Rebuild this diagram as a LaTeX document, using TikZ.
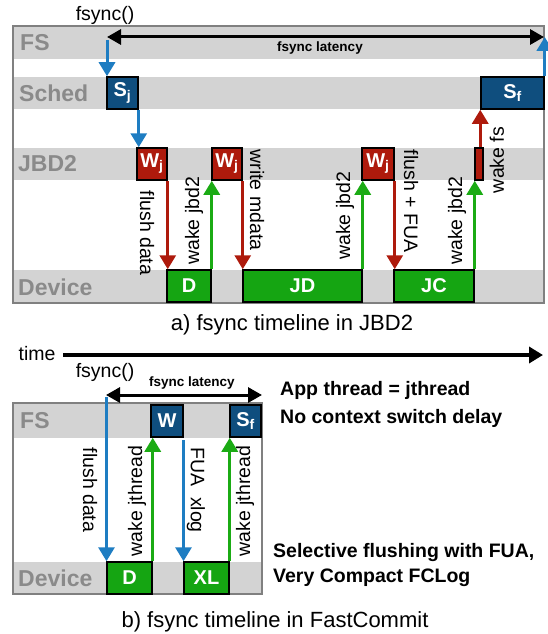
\documentclass[tikz,border=0pt]{standalone}
\usepackage{fontspec}
\setmainfont{Liberation Sans}
\usetikzlibrary{arrows.meta}
\definecolor{bandgray}{HTML}{D3D3D3}
\definecolor{lanegray}{HTML}{8A8A8A}
\definecolor{framegray}{HTML}{808080}
\definecolor{boxblue}{HTML}{0F4E7E}
\definecolor{boxred}{HTML}{AE1A0C}
\definecolor{boxgreen}{HTML}{15A512}
\definecolor{ablue}{HTML}{1E7DC2}
\definecolor{ared}{HTML}{AE1A0C}
\definecolor{agreen}{HTML}{1BAB14}
\begin{document}
\begin{tikzpicture}[x=1pt,y=-1pt,
  box/.style={draw=black, line width=1.5pt, text=white, font=\bfseries\fontsize{20}{22}\selectfont, inner sep=0pt, minimum height=32pt},
  bbox/.style={box, fill=boxblue},
  rbox/.style={box, fill=boxred},
  gbox/.style={box, fill=boxgreen},
  lane/.style={font=\bfseries\fontsize{23}{26}\selectfont, text=lanegray, anchor=west, inner sep=0pt},
  arr/.style={line width=3pt, -{Triangle[width=16pt,length=14pt]}},
  lat/.style={line width=3pt, {Triangle[width=15pt,length=14pt]}-{Triangle[width=15pt,length=14pt]}},
  lbl/.style={font=\fontsize{19.5}{22}\selectfont, inner sep=0pt},
  latl/.style={font=\bfseries\fontsize{13.5}{15}\selectfont, inner sep=0pt},
  note/.style={font=\bfseries\fontsize{19.5}{22}\selectfont, anchor=west, inner sep=0pt},
  capt/.style={font=\fontsize{22}{25}\selectfont, inner sep=0pt},
  band/.style={fill=bandgray},
  frm/.style={draw=framegray, line width=1.5pt},
]
\useasboundingbox (0,0) rectangle (548,634);

% ---------------- part a ----------------
\fill[band] (13,27) rectangle (544,59);
\fill[band] (13,77) rectangle (544,109);
\fill[band] (13,148) rectangle (544,180);
\fill[band] (13,270) rectangle (544,302);
\draw[frm] (13,26) rectangle (544,303);

\node[lane] (lfs) at (20,43) {FS};
\node[lane] (lsched) at (19,93) {Sched};
\node[lane] (ljbd) at (18,164) {JBD2};
\node[lane] (ldev) at (18,287) {Device};

\node[lbl] (fsynca) at (105,15) {fsync()};

\node[bbox, minimum width=31pt] (sj) at (122.5,93) {S\textsubscript{j}};
\node[bbox, minimum width=63pt] (sf) at (512.5,93) {S\textsubscript{f}};
\node[rbox, minimum width=30pt] (w1) at (152,164) {W\textsubscript{j}};
\node[rbox, minimum width=30pt] (w2) at (227,164) {W\textsubscript{j}};
\node[rbox, minimum width=32pt] (w3) at (378,164) {W\textsubscript{j}};
\node[rbox, minimum width=8pt] (w4) at (479,164) {};
\node[gbox, minimum width=44pt] (d) at (189,286) {D};
\node[gbox, minimum width=119pt] (jd) at (302.5,286) {JD};
\node[gbox, minimum width=80pt] (jc) at (434,286) {JC};

\coordinate (la1) at (107,37);
\coordinate (la2) at (544,37);
\draw[lat] (la1) -- (la2);
\node[latl] (lata) at (320,48) {fsync latency};

\coordinate (fsA) at (107,40);
\draw[arr,ablue] (fsA) -- (fsA |- sj.north);
\draw[arr,ablue] (sj.south east) -- (sj.south east |- w1.north);
\draw[arr,ared] (w1.south east) -- (w1.south east |- d.north);
\draw[arr,agreen] (d.north east) -- (d.north east |- w1.south);
\draw[arr,ared] (w2.south east) -- (w2.south east |- jd.north);
\draw[arr,agreen] (jd.north east) -- (jd.north east |- w3.south);
\draw[arr,ared] (w3.south east) -- (w3.south east |- jc.north);
\draw[arr,agreen] (jc.north east) -- (jc.north east |- w4.south);
\draw[arr,ared] (sf.south west |- w4.north) -- (sf.south west);
\draw[arr,ablue] (sf.north east) -- (sf.north east |- la2);

\node[lbl, rotate=-90] (t1) at (147,233) {flush data};
\node[lbl, rotate=90] (t2) at (194,221) {wake jbd2};
\node[lbl, rotate=-90] (t3) at (257,200) {write mdata};
\node[lbl, rotate=90] (t4) at (345,216) {wake jbd2};
\node[lbl, rotate=-90] (t5) at (411,201) {flush + FUA};
\node[lbl, rotate=90] (t6) at (457,221) {wake jbd2};
\node[lbl, rotate=90] (t7) at (497,160) {wake fs};

\node[capt] (capa) at (292,325) {a) fsync timeline in JBD2};

% ---------------- time ----------------
\node[lbl] (time) at (37,354) {time};
\coordinate (ta) at (63,355);
\coordinate (tb) at (543,355);
\draw[line width=3.5pt, -{Triangle[width=16pt,length=14pt]}] (ta) -- (tb);

% ---------------- part b ----------------
\fill[band] (13,403) rectangle (262,438);
\fill[band] (13,562) rectangle (262,594);
\draw[frm] (13,403) rectangle (262,594);

\node[lane] (lfs2) at (20,421) {FS};
\node[lane] (ldev2) at (18,578) {Device};

\node[lbl] (fsyncb) at (105,372) {fsync()};
\node[latl] (latb) at (192,383) {fsync latency};
\coordinate (lb1) at (106,395);
\coordinate (lb2) at (262,395);
\draw[lat] (lb1) -- (lb2);

\node[bbox, minimum width=32pt] (wb) at (167,421) {W};
\node[bbox, minimum width=31pt] (sf2) at (245.5,421) {S\textsubscript{f}};
\node[gbox, minimum width=45pt] (d2) at (129.5,578) {D};
\node[gbox, minimum width=45pt] (xl) at (206.5,578) {XL};

\coordinate (fb) at (106.5,397);
\draw[arr,ablue] (fb) -- (fb |- d2.north);
\draw[arr,agreen] (d2.north east) -- (d2.north east |- wb.south);
\coordinate (fua) at (183.5,440);
\draw[arr,ablue] (fua) -- (fua |- xl.north);
\draw[arr,agreen] (xl.north east) -- (xl.north east |- sf2.south);

\node[lbl, rotate=-90] (u1) at (90,490) {flush data};
\node[lbl, rotate=90] (u2) at (137,501) {wake jthread};
\node[lbl, rotate=-90] (u3) at (196,490) {FUA\ \ xlog};
\node[lbl, rotate=90] (u4) at (245,501) {wake jthread};

\node[note] (n1) at (280,390) {App thread = jthread};
\node[note] (n2) at (280,418) {No context switch delay};
\node[note] (n3) at (273,552) {Selective flushing with FUA,};
\node[note] (n4) at (273,578) {Very Compact FCLog};

\node[capt] (capb) at (275,622) {b) fsync timeline in FastCommit};
\end{tikzpicture}
\end{document}
